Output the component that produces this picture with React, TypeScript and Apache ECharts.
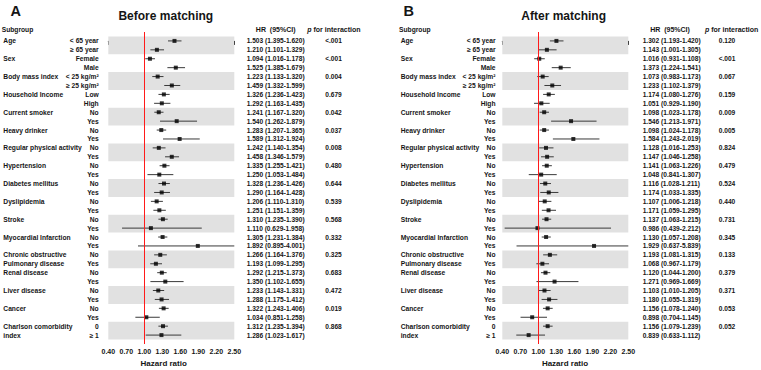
import React, { useEffect, useRef } from 'react';
import * as echarts from 'echarts';

const FONT = '"Liberation Sans", Arial, Helvetica, sans-serif';

// ---- labels ----
const groupNames = [
  'Age', 'Sex', 'Body mass index', 'Household Income', 'Current smoker', 'Heavy drinker',
  'Regular physical activity', 'Hypertension', 'Diabetes mellitus', 'Dyslipidemia', 'Stroke',
  'Myocardial Infarction', 'Chronic obstructive\nPulmonary disease', 'Renal disease',
  'Liver disease', 'Cancer', 'Charlson comorbidity\nindex',
];
const subLabels = [
  '< 65 year', '≥ 65 year', 'Female', 'Male', '< 25 kg/m²', '≥ 25 kg/m²', 'Low', 'High',
  'No', 'Yes', 'No', 'Yes', 'No', 'Yes', 'No', 'Yes', 'No', 'Yes', 'No', 'Yes', 'No', 'Yes',
  'No', 'Yes', 'No', 'Yes', 'No', 'Yes', 'No', 'Yes', 'No', 'Yes', '0', '≥ 1',
];
const xTicks = [0.4, 0.7, 1.0, 1.3, 1.6, 1.9, 2.2, 2.5];

// ---- Before matching ----
const hrA = [1.503, 1.210, 1.094, 1.525, 1.223, 1.459, 1.326, 1.292, 1.241, 1.540, 1.283, 1.589,
  1.242, 1.458, 1.335, 1.250, 1.328, 1.290, 1.206, 1.251, 1.310, 1.110, 1.305, 1.892, 1.266, 1.193,
  1.292, 1.350, 1.233, 1.288, 1.322, 1.034, 1.312, 1.286];
const loA = [1.395, 1.101, 1.016, 1.385, 1.133, 1.332, 1.236, 1.163, 1.167, 1.262, 1.207, 1.312,
  1.140, 1.346, 1.255, 1.053, 1.236, 1.164, 1.110, 1.151, 1.235, 0.629, 1.231, 0.895, 1.164, 1.099,
  1.215, 1.102, 1.143, 1.175, 1.243, 0.851, 1.235, 1.023];
const hiA = [1.620, 1.329, 1.178, 1.679, 1.320, 1.599, 1.423, 1.435, 1.320, 1.879, 1.365, 1.924,
  1.354, 1.579, 1.421, 1.484, 1.426, 1.428, 1.310, 1.359, 1.390, 1.958, 1.384, 4.001, 1.376, 1.295,
  1.373, 1.655, 1.331, 1.412, 1.406, 1.258, 1.394, 1.617];
const pA = ['<.001', '<.001', '0.004', '0.679', '0.042', '0.037', '0.008', '0.480', '0.644', '0.539',
  '0.568', '0.332', '0.325', '0.683', '0.472', '0.019', '0.868'];

// ---- After matching ----
const hrB = [1.302, 1.143, 1.016, 1.373, 1.073, 1.233, 1.174, 1.051, 1.098, 1.546, 1.098, 1.584,
  1.128, 1.147, 1.141, 1.048, 1.116, 1.174, 1.107, 1.171, 1.137, 0.986, 1.130, 1.929, 1.193, 1.068,
  1.120, 1.271, 1.103, 1.180, 1.156, 0.898, 1.156, 0.839];
const loB = [1.193, 1.001, 0.931, 1.224, 0.983, 1.102, 1.080, 0.929, 1.023, 1.213, 1.024, 1.243,
  1.016, 1.046, 1.063, 0.841, 1.028, 1.033, 1.006, 1.059, 1.063, 0.439, 1.057, 0.637, 1.081, 0.967,
  1.044, 0.969, 1.010, 1.055, 1.078, 0.704, 1.079, 0.633];
const hiB = [1.420, 1.305, 1.108, 1.541, 1.173, 1.379, 1.276, 1.190, 1.178, 1.971, 1.178, 2.019,
  1.253, 1.258, 1.226, 1.307, 1.211, 1.335, 1.218, 1.295, 1.215, 2.212, 1.208, 5.839, 1.315, 1.179,
  1.200, 1.669, 1.205, 1.319, 1.240, 1.145, 1.239, 1.112];
const pB = ['0.120', '<.001', '0.067', '0.159', '0.009', '0.005', '0.824', '0.479', '0.524', '0.440',
  '0.731', '0.345', '0.133', '0.379', '0.371', '0.053', '0.052'];

const TXT = '#151515';

function groupRowLabels(): string[] {
  const rows: string[] = [];
  groupNames.forEach((g) => {
    const parts = g.split('\n');
    rows.push(parts[0]);
    rows.push(parts[1] ?? '');
  });
  return rows;
}

function pRowLabels(p: string[]): string[] {
  const rows: string[] = [];
  p.forEach((v) => { rows.push(v); rows.push(''); });
  return rows;
}

interface PanelCfg {
  gridLeft: number;
  hr: number[]; lo: number[]; hi: number[]; p: string[];
  subMargin: number; groupMargin: number; hrMargin: number; pMargin: number;
}

function labelAxis(gridIndex: number, labels: string[], position: string, margin: number, align: string, size: number) {
  return {
    type: 'value', gridIndex, min: -1, max: 34, interval: 1, inverse: true, position,
    axisLine: { show: false }, axisTick: { show: false }, splitLine: { show: false },
    axisLabel: {
      margin, align, fontSize: size, fontWeight: 'bold', color: TXT, fontFamily: FONT,
      formatter: (v: number) => labels[Math.round(v)] ?? '',
    },
  };
}

function buildOption() {
  const panels: PanelCfg[] = [
    { gridLeft: 108.3, hr: hrA, lo: loA, hi: hiA, p: pA, subMargin: 9.6, groupMargin: 105, hrMargin: 12.4, pMargin: 99.2 },
    { gridLeft: 502.3, hr: hrB, lo: loB, hi: hiB, p: pB, subMargin: 6.8, groupMargin: 101.6, hrMargin: 14.4, pMargin: 98.7 },
  ];
  const grids: any[] = [];
  const xAxes: any[] = [];
  const yAxes: any[] = [];
  const series: any[] = [];
  const groupRows = groupRowLabels();

  panels.forEach((pc, idx) => {
    grids.push({ left: pc.gridLeft, top: 32, width: 126, height: 312 });
    xAxes.push({
      type: 'value', gridIndex: idx, min: 0.4, max: 2.5,
      axisLine: { show: true, lineStyle: { color: '#000', width: 1 } },
      axisTick: { show: true, length: 4, customValues: xTicks, lineStyle: { color: '#000', width: 1 } },
      axisLabel: {
        customValues: xTicks, margin: 4, fontSize: 7, fontWeight: 'bold', color: TXT, fontFamily: FONT,
        formatter: (v: number) => v.toFixed(2),
      },
      splitLine: { show: false },
    });
    const hrText = pc.hr.map((h, i) => `${h.toFixed(3)} (${pc.lo[i].toFixed(3)}-${pc.hi[i].toFixed(3)})`);
    const base = yAxes.length;
    yAxes.push(labelAxis(idx, subLabels, 'left', pc.subMargin, 'right', 6.7));
    yAxes.push(labelAxis(idx, groupRows, 'left', pc.groupMargin, 'left', 6.7));
    yAxes.push(labelAxis(idx, hrText, 'right', pc.hrMargin, 'left', 6.6));
    yAxes.push(labelAxis(idx, pRowLabels(pc.p), 'right', pc.pMargin, 'center', 6.6));

    const bands: any[] = [];
    groupNames.forEach((_, g) => {
      if (g % 2 === 0) bands.push([{ yAxis: 2 * g - 0.5 }, { yAxis: 2 * g + 1.5 }]);
    });

    series.push({
      type: 'scatter', xAxisIndex: idx, yAxisIndex: base, data: [], z: 1, silent: true,
      markArea: { silent: true, itemStyle: { color: '#e1e1e1' }, data: bands },
    });
    series.push({
      type: 'custom', xAxisIndex: idx, yAxisIndex: base, z: 2, silent: true,
      encode: { x: [0, 1], y: 2 },
      data: pc.hr.map((_, i) => [pc.lo[i], pc.hi[i], i]),
      renderItem: (params: any, api: any) => {
        const cs = params.coordSys;
        const y = api.value(2);
        const a = api.coord([api.value(0), y]);
        const b = api.coord([api.value(1), y]);
        const x1 = Math.max(cs.x, Math.min(cs.x + cs.width, a[0]));
        const x2 = Math.max(cs.x, Math.min(cs.x + cs.width, b[0]));
        return {
          type: 'line',
          shape: { x1, y1: a[1], x2, y2: b[1] },
          style: { stroke: '#3a3a3a', lineWidth: 1 },
        };
      },
    });
    series.push({
      type: 'scatter', xAxisIndex: idx, yAxisIndex: base, z: 4, silent: true,
      symbol: 'rect', symbolSize: 4, itemStyle: { color: '#000' },
      data: pc.hr.map((h, i) => [h, i]),
      markLine: {
        silent: true, symbol: 'none', label: { show: false },
        lineStyle: { color: '#ff1a1a', width: 1, type: 'solid' },
        data: [{ xAxis: 1 }],
      },
    });
  });

  const t = (text: string, x: number, y: number, size: number, align = 'left', extra: any = {}) => ({
    type: 'text', x, y, silent: true,
    style: { text, fontSize: size, fontWeight: 'bold', fontFamily: FONT, fill: TXT, align, verticalAlign: 'middle', ...extra },
  });
  const pHeader = (x: number) => ({
    type: 'text', x, y: 29.3, silent: true,
    style: {
      text: '{i|p} for interaction', fontSize: 7, fontWeight: 'bold', fontFamily: FONT, fill: TXT,
      align: 'left', verticalAlign: 'middle',
      rich: { i: { fontStyle: 'italic', fontWeight: 'bold', fontSize: 7, fontFamily: FONT, fill: TXT } },
    },
  });

  const graphic: any[] = [
    t('A', 10.5, 11, 14.5, 'left'),
    t('B', 403.5, 11, 14.5, 'left'),
    t('Before matching', 165.8, 16, 12, 'center'),
    t('After matching', 563.7, 16, 12, 'center'),
    t('Subgroup', 1.7, 29.3, 6.7, 'left'),
    t('Subgroup', 399, 29.3, 6.7, 'left'),
    t('HR  (95%CI)', 275.7, 29.3, 7, 'center'),
    t('HR  (95%CI)', 670, 29.3, 7, 'center'),
    pHeader(307.3),
    pHeader(705),
    t('Hazard ratio', 163.7, 363.3, 8, 'center'),
    t('Hazard ratio', 565, 363.3, 8, 'center'),
  ];

  return {
    animation: false,
    backgroundColor: '#fff',
    grid: grids,
    xAxis: xAxes,
    yAxis: yAxes,
    series,
    graphic,
  };
}

export default function App() {
  const ref = useRef<HTMLDivElement>(null);
  useEffect(() => {
    const chart = echarts.init(ref.current!, null, { renderer: 'svg' });
    chart.setOption(buildOption() as any);
    return () => chart.dispose();
  }, []);
  return (
    <div
      ref={ref}
      style={{ position: 'fixed', left: 0, top: 0, width: 761, height: 370, background: '#fff' }}
    />
  );
}
